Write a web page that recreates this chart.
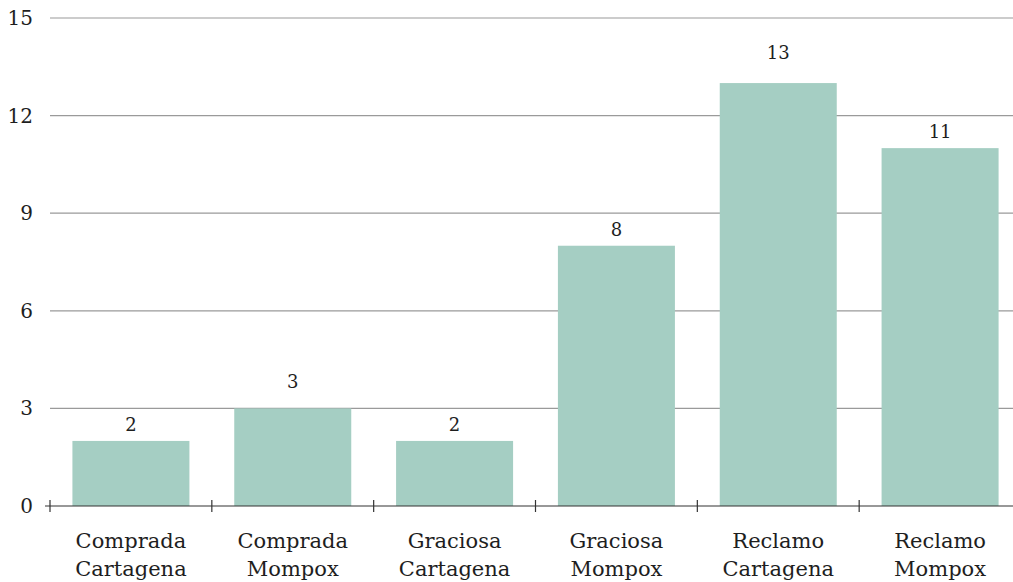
<!DOCTYPE html>
<html>
<head>
<meta charset="utf-8">
<script src="https://cdn.jsdelivr.net/npm/d3@7"></script>
<style>
  body { margin: 0; background: #fff; }
  text { font-family: 'DejaVu Serif', serif; fill: #1e1e1e; }
</style>
</head>
<body>
<div id="chart"></div>
<script>
var categories = [
  ['Comprada', 'Cartagena'],
  ['Comprada', 'Mompox'],
  ['Graciosa', 'Cartagena'],
  ['Graciosa', 'Mompox'],
  ['Reclamo', 'Cartagena'],
  ['Reclamo', 'Mompox']
]
var values = [2, 3, 2, 8, 13, 11]
var yTicks = [0, 3, 6, 9, 12, 15]

var width = 1013
var height = 582
var margin = { top: 18, left: 50, right: -8, bottom: 76 }

// some value labels sit higher in the original
var labelLift = [0, 10, 0, 0, 14, 0]

var svg = d3
  .select('#chart')
  .append('svg')
  .attr('width', width)
  .attr('height', height)

var keys = categories.map(d => d.join(' '))

var xScale = d3
  .scaleBand()
  .domain(keys)
  .range([margin.left, width - margin.right])
  .paddingInner(0.277)
  .paddingOuter(0.1385)

var yScale = d3
  .scaleLinear()
  .domain([0, 15])
  .range([height - margin.bottom, margin.top])

// gridlines
svg
  .selectAll('.grid')
  .data(yTicks.filter(d => d > 0))
  .enter()
  .append('line')
  .attr('x1', margin.left)
  .attr('x2', width)
  .attr('y1', d => yScale(d))
  .attr('y2', d => yScale(d))
  .attr('stroke', '#9a9a9a')
  .attr('stroke-width', 1.2)

svg
  .selectAll('.y-label')
  .data(yTicks)
  .enter()
  .append('text')
  .text(d => d)
  .attr('x', 33)
  .attr('y', d => yScale(d))
  .attr('dy', '0.35em')
  .attr('text-anchor', 'end')
  .attr('font-size', 20)

// bars
svg
  .selectAll('.bar')
  .data(values)
  .enter()
  .append('rect')
  .attr('x', (d, i) => xScale(keys[i]))
  .attr('width', xScale.bandwidth())
  .attr('y', d => yScale(d))
  .attr('height', d => yScale(0) - yScale(d))
  .attr('fill', '#a5cec3')

svg
  .selectAll('.value')
  .data(values)
  .enter()
  .append('text')
  .text(d => d)
  .attr('x', (d, i) => xScale(keys[i]) + xScale.bandwidth() / 2)
  .attr('y', (d, i) => yScale(d) - 10 - labelLift[i])
  .attr('text-anchor', 'middle')
  .attr('font-size', 18)

// x axis line + ticks
var y0 = yScale(0)
svg
  .append('line')
  .attr('x1', margin.left - 5)
  .attr('x2', width)
  .attr('y1', y0)
  .attr('y2', y0)
  .attr('stroke', '#333')
  .attr('stroke-width', 1.2)

var step = xScale.step()
var tickXs = d3.range(keys.length + 1).map(i => xScale(keys[0]) - step * 0.1385 + i * step)
svg
  .selectAll('.x-tick')
  .data(tickXs)
  .enter()
  .append('line')
  .attr('x1', d => d)
  .attr('x2', d => d)
  .attr('y1', y0 - 6)
  .attr('y2', y0 + 6)
  .attr('stroke', '#333')
  .attr('stroke-width', 1.2)

var labels = svg
  .selectAll('.x-label')
  .data(categories)
  .enter()
  .append('text')
  .attr('text-anchor', 'middle')
  .attr('font-size', 21)
  .attr('x', (d, i) => xScale(keys[i]) + xScale.bandwidth() / 2)

labels
  .append('tspan')
  .text(d => d[0])
  .attr('x', (d, i) => xScale(keys[i]) + xScale.bandwidth() / 2)
  .attr('y', 548)
labels
  .append('tspan')
  .text(d => d[1])
  .attr('x', (d, i) => xScale(keys[i]) + xScale.bandwidth() / 2)
  .attr('y', 576)
</script>
</body>
</html>
